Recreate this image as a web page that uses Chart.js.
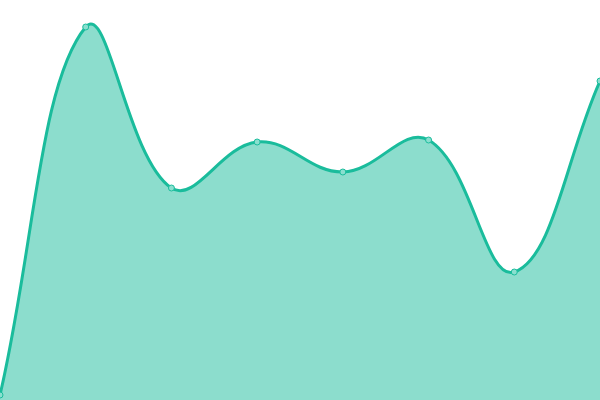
<!DOCTYPE html>
<html>
<head>
<meta charset="utf-8">
<script src="https://cdn.jsdelivr.net/npm/chart.js@4/dist/chart.umd.min.js"></script>
<style>
    html, body { margin: 0; padding: 0; background: #ffffff; }
    #wrap { width: 600px; height: 400px; }
</style>
</head>
<body>
<div id="wrap"><canvas id="grafica" width="600" height="400"></canvas></div>
<script>
const etiquetas = ["1", "2", "3", "4", "5", "6", "7", "8"];
const valores = [5, 373, 212, 258, 228, 260, 128, 319];
const escalaMin = 0;
const escalaMax = 400;

const ctx = document.getElementById("grafica").getContext("2d");

new Chart(ctx, {

    type: "line",

    data: {
        labels: etiquetas,
        datasets: [
            {
                data: valores,
                borderColor: "#1abc9c",
                backgroundColor: "rgba(26, 188, 156, 0.5)",
                borderWidth: 3,
                fill: "start",
                tension: 0.4,
                pointRadius: 3,
                pointBorderWidth: 1,
                pointBackgroundColor: "#8adfcf",
                pointBorderColor: "#1abc9c"
            }
        ]
    },

    options: {
        responsive: false,
        animation: false,
        layout: { padding: 0, autoPadding: false },
        plugins: {
            legend: { display: false },
            tooltip: { enabled: false }
        },
        scales: {
            x: { display: false },
            y: { display: false, min: escalaMin, max: escalaMax }
        }
    }
});
</script>
</body>
</html>
